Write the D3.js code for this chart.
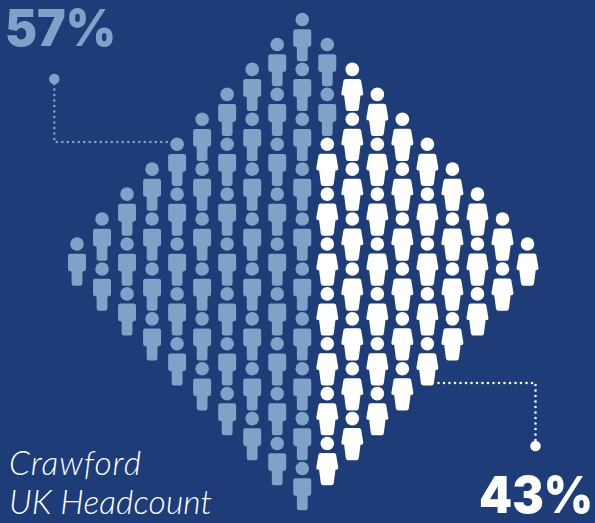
<!DOCTYPE html>
<html>
<head>
<meta charset="utf-8">
<script src="https://cdn.jsdelivr.net/npm/d3@7"></script>
<style>
  html, body { margin: 0; padding: 0; background: #1d3c78; }
  svg { display: block; }
</style>
</head>
<body>
<svg id="chart" width="595" height="523"></svg>
<script>
// Headcount split and the diamond of 100 figures that shows it
const shareLabels = ["57%", "43%"];
const shareValues = [57, 43];
const columnCounts = [1, 2, 3, 4, 5, 6, 7, 8, 9, 10, 9, 8, 7, 6, 5, 4, 3, 2, 1];
const titleLines = ["Crawford", "UK Headcount"];

const background = "#1d3c78";
const lightBlue = "#7ea3c6";
const white = "#ffffff";

const svg = d3.select("#chart");
svg.append("rect").attr("width", 595).attr("height", 523).attr("fill", background);

// Column index to x, half-step row index to the y of a head
const x = d3.scaleLinear().domain([0, 18]).range([77, 527.5]);
const y = d3.scaleLinear().domain([0, 18]).range([19.5, 468.5]);

// Figures fill column by column, top to bottom, starting with the first share
const people = [];
let counted = 0;
columnCounts.forEach((count, col) => {
  const firstRow = 9 - (count - 1);
  d3.range(count).forEach(k => {
    people.push({ col, row: firstRow + 2 * k, group: counted < shareValues[0] ? 0 : 1 });
    counted += 1;
  });
});

const manBody = d3.path();
manBody.moveTo(-6.7, 9.7);
manBody.lineTo(6.7, 9.7);
manBody.quadraticCurveTo(9, 9.7, 9, 12);
manBody.lineTo(9, 25);
manBody.quadraticCurveTo(9, 27.3, 6.8, 27.3);
manBody.quadraticCurveTo(5.4, 27.3, 5.4, 28.7);
manBody.lineTo(5.4, 39.4);
manBody.quadraticCurveTo(5.4, 41.7, 3.1, 41.7);
manBody.lineTo(-3.1, 41.7);
manBody.quadraticCurveTo(-5.4, 41.7, -5.4, 39.4);
manBody.lineTo(-5.4, 28.7);
manBody.quadraticCurveTo(-5.4, 27.3, -6.8, 27.3);
manBody.quadraticCurveTo(-9, 27.3, -9, 25);
manBody.lineTo(-9, 12);
manBody.quadraticCurveTo(-9, 9.7, -6.7, 9.7);
manBody.closePath();

const womanBody = d3.path();
womanBody.moveTo(-6.8, 9.5);
womanBody.lineTo(6.8, 9.5);
womanBody.quadraticCurveTo(8.3, 9.5, 8.8, 11);
womanBody.lineTo(11, 24);
womanBody.quadraticCurveTo(11.2, 26.2, 9, 26.2);
womanBody.lineTo(8.2, 26.2);
womanBody.lineTo(6.5, 39.5);
womanBody.quadraticCurveTo(6.1, 41.7, 4, 41.7);
womanBody.lineTo(-4, 41.7);
womanBody.quadraticCurveTo(-6.1, 41.7, -6.5, 39.5);
womanBody.lineTo(-8.2, 26.2);
womanBody.lineTo(-9, 26.2);
womanBody.quadraticCurveTo(-11.2, 26.2, -11, 24);
womanBody.lineTo(-8.8, 11);
womanBody.quadraticCurveTo(-8.3, 9.5, -6.8, 9.5);
womanBody.closePath();

const figure = svg.append("g").selectAll("g").data(people).join("g")
  .attr("transform", d => `translate(${x(d.col)},${y(d.row)})`)
  .attr("fill", d => d.group === 0 ? lightBlue : white);
figure.append("circle").attr("r", 6.8);
figure.append("path").attr("d", d => (d.group === 0 ? manBody : womanBody).toString());

// Dotted leaders from each share to the diamond
const leaders = [
  { color: lightBlue, dot: [54.3, 79], points: [[54.3, 84], [54.3, 142], [170, 142]] },
  { color: white, dot: [535.5, 446], points: [[535.5, 440], [535.5, 383], [436, 383]] }
];
const leaderLine = d3.line();
leaders.forEach(l => {
  svg.append("path")
    .attr("d", leaderLine(l.points))
    .attr("fill", "none")
    .attr("stroke", l.color)
    .attr("stroke-width", 2.6)
    .attr("stroke-linecap", "round")
    .attr("stroke-dasharray", "0 5.5");
  svg.append("circle")
    .attr("cx", l.dot[0]).attr("cy", l.dot[1]).attr("r", 5.3)
    .attr("fill", l.color);
});

// Share call-outs
svg.append("text").text(shareLabels[0])
  .attr("x", 5).attr("y", 46)
  .attr("font-family", "Inter").attr("font-weight", 900).attr("font-size", 51)
  .attr("textLength", 111).attr("lengthAdjust", "spacingAndGlyphs")
  .attr("fill", lightBlue);
svg.append("text").text(shareLabels[1])
  .attr("x", 479).attr("y", 513)
  .attr("font-family", "Inter").attr("font-weight", 900).attr("font-size", 51)
  .attr("textLength", 114).attr("lengthAdjust", "spacingAndGlyphs")
  .attr("fill", white);

// Title, each line fitted to its own measure
svg.append("g").selectAll("text").data(titleLines).join("text")
  .text(d => d)
  .attr("x", 9)
  .attr("y", (d, i) => 475 + i * 39)
  .attr("textLength", (d, i) => i === 0 ? 132 : 203)
  .attr("lengthAdjust", "spacing")
  .attr("font-family", "Lato").attr("font-weight", 300).attr("font-style", "italic")
  .attr("font-size", 33.5)
  .attr("fill", white);
</script>
</body>
</html>
